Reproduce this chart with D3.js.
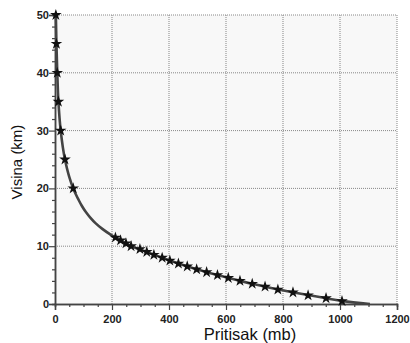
<!DOCTYPE html>
<html>
<head>
<meta charset="utf-8">
<script src="https://cdn.jsdelivr.net/npm/d3@7"></script>
<style>
  body { margin: 0; background: #fff; }
  svg { display: block; }
</style>
</head>
<body>
<div id="chart"></div>
<script>
// pressure (mb) vs altitude (km)
let curveAlt = [0, 0.5, 1, 1.5, 2, 2.5, 3, 3.5, 4, 5, 6, 7, 8, 9, 10, 11, 12, 13, 14, 15, 16, 17, 18, 19, 20, 22, 25, 30, 35, 40, 45, 50];
let curvePres = [1105, 1010, 952, 893, 838, 785, 738, 692, 650, 570, 497, 433, 376, 322, 268, 228, 195, 166, 142, 123, 107, 94, 83, 73, 64, 50, 35, 20, 12, 8, 5, 3];

let markAlt = [50, 45, 40, 35, 30, 25, 20, 11.5, 11, 10.5, 10, 9.5, 9, 8.5, 8, 7.5, 7, 6.5, 6, 5.5, 5, 4.5, 4, 3.5, 3, 2.5, 2, 1.5, 1, 0.5];
let markPres = [3, 5, 8, 12, 20, 35, 64, 212, 230, 249, 267, 298, 322, 347, 376, 403, 433, 464, 497, 532, 570, 608, 649, 692, 737, 782, 835, 888, 951, 1007];

let xTicks = [0, 200, 400, 600, 800, 1000, 1200];
let yTicks = [0, 10, 20, 30, 40, 50];

let margin = { top: 15, right: 13, bottom: 39, left: 55 },
  width = 410 - margin.left - margin.right,
  height = 343 - margin.top - margin.bottom;

let svg = d3.select('#chart').append('svg')
  .attr('width', 410)
  .attr('height', 343);

let g = svg.append('g')
  .attr('transform', 'translate(' + margin.left + ',' + margin.top + ')');

let x = d3.scaleLinear().domain([0, 1200]).range([0, width]);
let y = d3.scaleLinear().domain([0, 50]).range([height, 0]);

g.append('rect')
  .attr('width', width)
  .attr('height', height)
  .attr('fill', '#f8f8f8');

// grid
g.selectAll('.vgrid')
  .data(xTicks.slice(1))
  .enter().append('line')
  .attr('x1', d => x(d)).attr('x2', d => x(d))
  .attr('y1', 0).attr('y2', height)
  .attr('stroke', '#999')
  .attr('stroke-width', 1.2)
  .attr('stroke-dasharray', '1,1');

g.selectAll('.hgrid')
  .data(yTicks.slice(1))
  .enter().append('line')
  .attr('x1', 0).attr('x2', width)
  .attr('y1', d => y(d)).attr('y2', d => y(d))
  .attr('stroke', '#888')
  .attr('stroke-width', 1)
  .attr('stroke-dasharray', '1,1');

// axes
let tickFont = g => g.selectAll('text')
  .style('font-family', 'Liberation Sans, Arial, sans-serif')
  .style('font-size', '11px')
  .style('font-weight', 'bold')
  .attr('fill', '#222');

let xAxis = g.append('g')
  .attr('transform', 'translate(0,' + height + ')')
  .call(d3.axisBottom(x).tickValues(xTicks).tickFormat(d3.format('d')).tickSize(6).tickPadding(5));
xAxis.call(tickFont);
g.append('g')
  .attr('transform', 'translate(0,' + height + ')')
  .call(d3.axisBottom(x).tickValues(d3.range(50, 1200, 50).filter(d => d % 200)).tickSize(3).tickFormat(''));

let yAxis = g.append('g')
  .call(d3.axisLeft(y).tickValues(yTicks).tickSize(6).tickPadding(0));
yAxis.call(tickFont);
g.append('g')
  .call(d3.axisLeft(y).tickValues(d3.range(2, 50, 2).filter(d => d % 10)).tickSize(3).tickFormat(''));

g.selectAll('.domain').attr('stroke', '#444').attr('stroke-width', 1.5);
g.selectAll('.tick line').attr('stroke', '#444').attr('stroke-width', 1.2);

// curve
let pts = curveAlt.map((a, i) => ({ h: a, p: curvePres[i] }));
let line = d3.line()
  .x(d => x(d.p))
  .y(d => y(d.h))
  .curve(d3.curveMonotoneY);

g.append('path')
  .datum(pts)
  .attr('d', line)
  .attr('fill', 'none')
  .attr('stroke', '#444')
  .attr('stroke-width', 2.6);

// star markers
let star = d3.symbol().type(d3.symbolStar).size(42);
g.selectAll('.mark')
  .data(markAlt.map((a, i) => ({ h: a, p: markPres[i] })))
  .enter().append('path')
  .attr('d', star)
  .attr('transform', d => 'translate(' + x(d.p) + ',' + y(d.h) + ')')
  .attr('fill', '#111');

// titles
svg.append('text')
  .text('Pritisak (mb)')
  .attr('x', 250)
  .attr('y', 340)
  .attr('text-anchor', 'middle')
  .style('font-family', 'Liberation Sans, Arial, sans-serif')
  .style('font-size', '16.5px')
  .attr('fill', '#111');

svg.append('text')
  .text('Visina (km)')
  .attr('transform', 'translate(22,162) rotate(-90)')
  .attr('text-anchor', 'middle')
  .style('font-family', 'Liberation Sans, Arial, sans-serif')
  .style('font-size', '15px')
  .attr('fill', '#111');
</script>
</body>
</html>
